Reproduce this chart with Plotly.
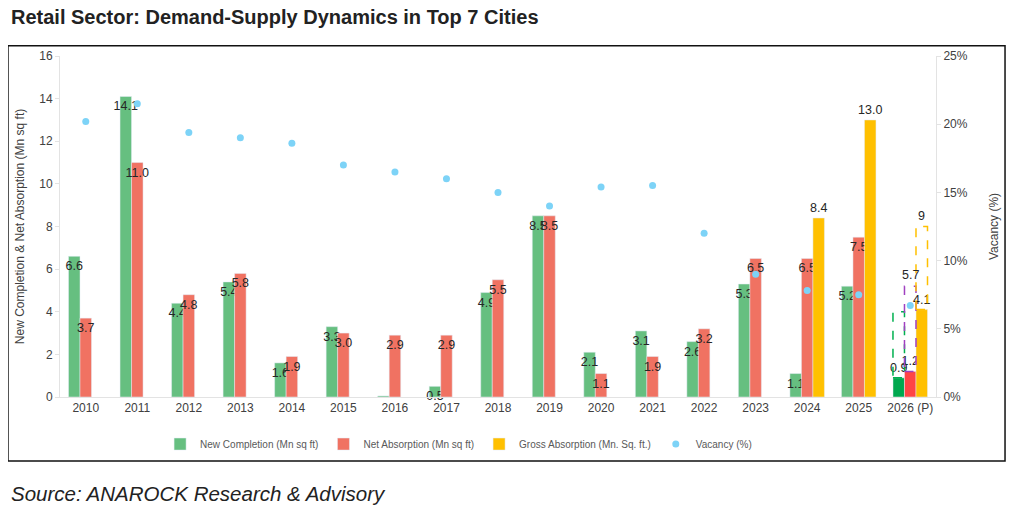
import plotly.graph_objs as go

years = ["2010", "2011", "2012", "2013", "2014", "2015", "2016", "2017", "2018",
         "2019", "2020", "2021", "2022", "2023", "2024", "2025", "2026 (P)"]
new_completion = [6.6, 14.1, 4.4, 5.4, 1.6, 3.3, 0.05, 0.5, 4.9, 8.5, 2.1, 3.1, 2.6, 5.3, 1.1, 5.2, 0.9]
net_absorption = [3.7, 11.0, 4.8, 5.8, 1.9, 3.0, 2.9, 2.9, 5.5, 8.5, 1.1, 1.9, 3.2, 6.5, 6.5, 7.5, 1.2]
gross_absorption = [None] * 14 + [8.4, 13.0, 4.1]
vacancy = [20.2, 21.5, 19.4, 19.0, 18.6, 17.0, 16.5, 16.0, 15.0, 14.0, 15.4, 15.5, 12.0, 9.0, 7.8, 7.5, 6.7]

# 2026 projection ranges (dashed boxes) per series, and their labels
proj_top = [4.0, 5.2, 8.0]
proj_labels = ["", "5.7", "9"]

GREEN = "#66bf80"
RED = "#f07262"
GOLD = "#ffc000"
BLUE = "#7dd3f7"
GREEN_P = "#00a84f"
RED_P = "#ff4545"
BAR_GAP = 0.33

n = len(years)


def labels(vals):
    return ["" if v is None or v < 0.1 else f"{v:.1f}" for v in vals]


fig = go.Figure()
fig.add_trace(go.Bar(
    name="New Completion (Mn sq ft)", x=years, y=new_completion,
    marker_color=[GREEN] * (n - 1) + [GREEN_P],
    text=labels(new_completion), textposition=["inside"] * (n - 1) + ["outside"],
    insidetextanchor="end", textangle=0, constraintext="none",
    textfont=dict(size=12.5, color="#262626"), cliponaxis=False,
))
fig.add_trace(go.Bar(
    name="Net Absorption (Mn sq ft)", x=years, y=net_absorption,
    marker_color=[RED] * (n - 1) + [RED_P],
    text=labels(net_absorption), textposition=["inside"] * (n - 1) + ["outside"],
    insidetextanchor="end", textangle=0, constraintext="none",
    textfont=dict(size=12.5, color="#262626"), cliponaxis=False,
))
fig.add_trace(go.Bar(
    name="Gross Absorption (Mn. Sq. ft.)", x=years, y=gross_absorption,
    marker_color=GOLD,
    text=labels(gross_absorption), textposition="outside",
    textangle=0, constraintext="none",
    textfont=dict(size=12.5, color="#262626"), cliponaxis=False,
))
fig.add_trace(go.Scatter(
    name="Vacancy (%)", x=years, y=vacancy, yaxis="y2", mode="markers",
    marker=dict(color=BLUE, size=7),
))

# dashed projection boxes on the 2026 group
w = (1 - BAR_GAP) / 3
bases = [new_completion[-1], net_absorption[-1], gross_absorption[-1]]
box_cols = ["#00b050", "#a040c0", GOLD]
for j in range(3):
    cx = (n - 1) + (j - 1) * w
    fig.add_shape(type="rect", xref="x", yref="y",
                  x0=cx - w / 2, x1=cx + w / 2, y0=bases[j], y1=proj_top[j],
                  line=dict(color=box_cols[j], width=1.5, dash="dash"))
    if proj_labels[j]:
        fig.add_annotation(x=cx, y=proj_top[j], xref="x", yref="y", text=proj_labels[j],
                           showarrow=False, yanchor="bottom", yshift=2,
                           font=dict(size=12.5, color="#262626"))

# outer frame
fig.add_shape(type="rect", xref="paper", yref="paper",
              x0=-0.0594, x1=1.0788, y0=-0.188, y1=1.03,
              line=dict(color="#111111", width=1.5))

axis_grey = "#e3e3e3"
fig.update_layout(
    width=999, height=501,
    margin=dict(l=52, r=71, t=48, b=112),
    paper_bgcolor="white", plot_bgcolor="white",
    font=dict(family="Arial, Liberation Sans, sans-serif", color="#404040"),
    barmode="group", bargap=BAR_GAP, bargroupgap=0,
    title=dict(text="<b>Retail Sector: Demand-Supply Dynamics in Top 7 Cities</b>",
               x=0.003, xref="container", xanchor="left",
               y=0.982, yref="container", yanchor="middle",
               font=dict(size=20, color="#222222")),
    xaxis=dict(type="category", range=[-0.5, n - 0.5], showgrid=False, showline=True,
               linecolor=axis_grey, tickfont=dict(size=12, color="#404040"), ticks="",
               automargin=False),
    yaxis=dict(range=[0, 16], dtick=2, showgrid=False, showline=True, linecolor=axis_grey,
               ticks="outside", ticklen=4, tickcolor=axis_grey,
               zeroline=False, tickfont=dict(size=12, color="#404040"), automargin=False,
               title=dict(text="New Completion & Net Absorption (Mn sq ft)",
                          font=dict(size=12, color="#404040"), standoff=12)),
    yaxis2=dict(range=[0, 25], dtick=5, ticksuffix="%", overlaying="y", side="right",
                showgrid=False, showline=True, linecolor=axis_grey, zeroline=False,
                ticks="outside", ticklen=4, tickcolor=axis_grey,
                tickfont=dict(size=12, color="#404040"), automargin=False,
                title=dict(text="Vacancy (%)", font=dict(size=12, color="#404040"),
                           standoff=22)),
    legend=dict(orientation="h", x=0.455, xanchor="center", y=-0.138, yanchor="middle",
                font=dict(size=10, color="#595959"),
                itemwidth=30, traceorder="normal"),
    annotations=list(fig.layout.annotations) + [
        dict(text="<i>Source: ANAROCK Research & Advisory</i>", xref="paper", yref="paper",
             x=-0.058, y=-0.282, xanchor="left", yanchor="middle", showarrow=False,
             font=dict(size=20.5, color="#222222")),
    ],
)

fig.write_html("out.html")
